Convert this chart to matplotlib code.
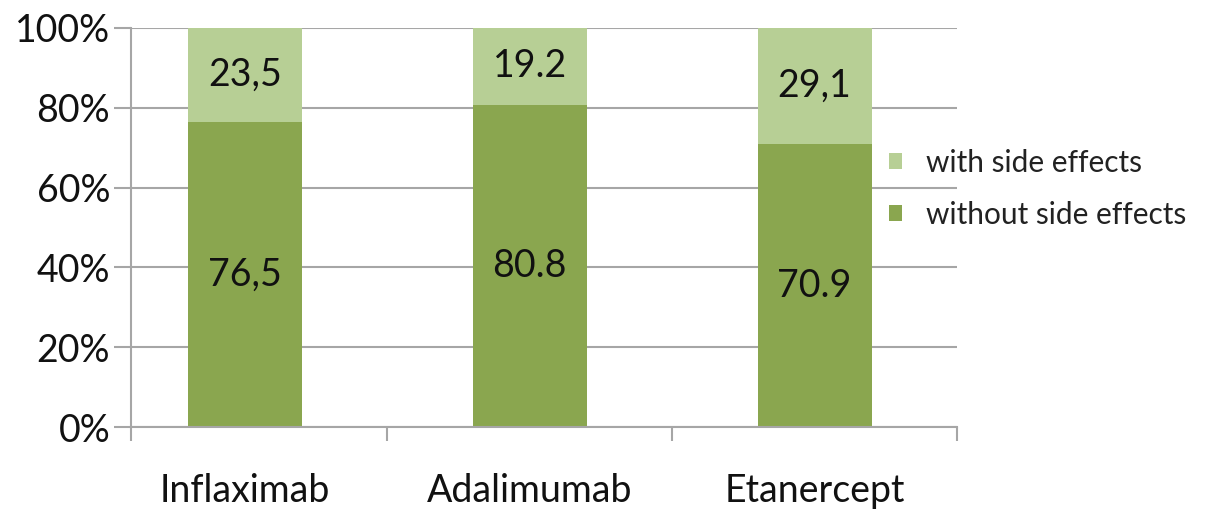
import matplotlib.pyplot as plt
import numpy as np

drugs = ["Inflaximab", "Adalimumab", "Etanercept"]
without_side = [76.5, 80.8, 70.9]
with_side = [23.5, 19.2, 29.1]
without_labels = ["76,5", "80.8", "70.9"]
with_labels = ["23,5", "19.2", "29,1"]

dark_green = "#8aa64f"
light_green = "#b7cf95"
grid_gray = "#a6a6a6"

plt.rcParams["font.family"] = ["Lato", "DejaVu Sans"]

fig = plt.figure(figsize=(12.05, 5.2), dpi=100)
ax = fig.add_axes([131 / 1205, 1 - 427 / 520, (957 - 131) / 1205, (427 - 28) / 520])

x = np.arange(len(drugs))
width = 0.40
ax.bar(x, without_side, width, color=dark_green, label="without side effects", zorder=2)
ax.bar(x, with_side, width, bottom=without_side, color=light_green,
       label="with side effects", zorder=2)

for i in range(len(drugs)):
    ax.text(x[i], without_side[i] / 2, without_labels[i], ha="center", va="center",
            fontsize=27, color="#111111", zorder=3)
    ax.text(x[i], without_side[i] + with_side[i] / 2, with_labels[i], ha="center",
            va="center", fontsize=27, color="#111111", zorder=3)

ax.set_xlim(-0.40, 2.50)
ax.set_ylim(0, 100)
ax.set_yticks(np.arange(0, 101, 20))
ax.set_yticklabels([f"{v}%" for v in range(0, 101, 20)])
ax.yaxis.grid(True, color=grid_gray, linewidth=1.5, zorder=0)
ax.set_axisbelow(True)

ax.set_xticks(x)
ax.set_xticklabels(drugs)
ax.set_xticks([-0.40, 0.5, 1.5, 2.5], minor=True)
ax.tick_params(axis="x", which="major", length=0, pad=33, labelsize=27, labelcolor="#111111")
ax.tick_params(axis="x", which="minor", length=10, width=1.5, color=grid_gray)
ax.tick_params(axis="y", length=12, width=1.5, color=grid_gray, labelsize=27,
               labelcolor="#111111", pad=3)

for side in ["top", "right"]:
    ax.spines[side].set_visible(False)
for side in ["left", "bottom"]:
    ax.spines[side].set_color(grid_gray)
    ax.spines[side].set_linewidth(1.5)

handles, labels = ax.get_legend_handles_labels()
fig.legend(handles[::-1], labels[::-1], loc="center left",
           bbox_to_anchor=(862 / 1205, 1 - 189 / 520), frameon=False, fontsize=21.5,
           handlelength=0.45, handleheight=0.45, handletextpad=0.8, labelspacing=0.8,
           labelcolor="#222222")

fig.savefig("out.png", dpi=100)
